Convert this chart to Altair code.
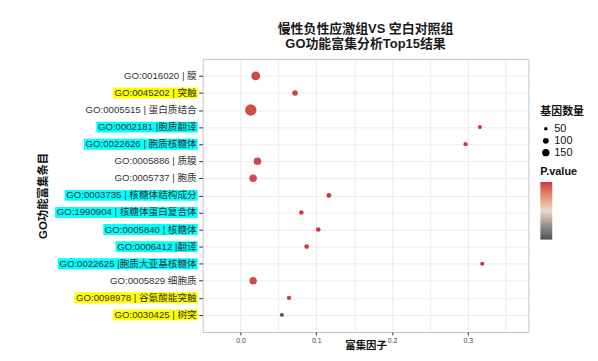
import altair as alt
import pandas as pd

# ---------------- data ----------------
terms = [
    "GO:0016020 | 膜",
    "GO:0045202 | 突触",
    "GO:0005515 | 蛋白质结合",
    "GO:0002181 |胞质翻译",
    "GO:0022626 | 胞质核糖体",
    "GO:0005886 | 质膜",
    "GO:0005737 | 胞质",
    "GO:0003735 | 核糖体结构成分",
    "GO:1990904 | 核糖体蛋白复合体",
    "GO:0005840 | 核糖体",
    "GO:0006412 |翻译",
    "GO:0022625 |胞质大亚基核糖体",
    "GO:0005829 细胞质",
    "GO:0098978 | 谷氨酸能突触",
    "GO:0030425 | 树突",
]
highlight = ["", "yellow", "", "cyan", "cyan", "", "", "cyan", "cyan", "cyan",
             "cyan", "cyan", "", "yellow", "yellow"]
rich_factor = [0.020, 0.072, 0.0135, 0.316, 0.297, 0.0223, 0.0166, 0.1166,
               0.0803, 0.1026, 0.0873, 0.319, 0.0166, 0.064, 0.0546]
gene_count = [210, 95, 341, 61, 63, 162, 160, 75, 70, 72, 74, 60, 152, 66, 58]
p_value = [0.0452, 0.0461, 0.0449, 0.0470, 0.0468, 0.0455, 0.0450, 0.0473,
           0.0466, 0.0471, 0.0469, 0.0474, 0.0451, 0.0458, 0.0012]
x_grid = [0.0, 0.05, 0.10, 0.15, 0.20, 0.25, 0.30, 0.35]
size_breaks = [50, 100, 150]

# ---------------- layout helpers ----------------
FONT = "Liberation Sans, Noto Sans CJK SC, sans-serif"
FS = 9.7
X_MIN, X_MAX = -0.05, 0.38
PLOT_W, PLOT_H = 328, 275
ppu = PLOT_W / (X_MAX - X_MIN)


def text_width(s, fs):
    w = 0.0
    for ch in s:
        if ord(ch) > 0x2E80:
            w += 1.0
        elif ch in "GO":
            w += 0.778
        elif ch in ": ":
            w += 0.278
        elif ch == "|":
            w += 0.26
        else:
            w += 0.556
    return w * fs


hl_color = {"yellow": "#ffff00", "cyan": "#00ffff", "": "transparent"}

df = pd.DataFrame({
    "term": terms,
    "rf": rich_factor,
    "gc": gene_count,
    "pv": p_value,
    "hl": [hl_color[h] for h in highlight],
})
df["hx0"] = [X_MIN - (6 + text_width(t, FS) + 1.5) / ppu for t in terms]
df["hx1"] = X_MIN - 5 / ppu

major_test = "abs(datum.value*10 - round(datum.value*10)) < 0.001"

y_enc = alt.Y(
    "term:N", sort=terms,
    scale=alt.Scale(type="point", padding=1.45),
    axis=alt.Axis(
        labels=False, ticks=True, tickSize=4, tickColor="#333333",
        domain=False, grid=True, gridColor="#ebebeb",
        title="GO功能富集条目", titleX=-160, titleY=PLOT_H / 2,
        titleAngle=270, titleAlign="center", titleBaseline="middle",
        titleFontSize=11.5, titleFontWeight="bold", titleColor="#111111",
    ),
)
x_scale = alt.Scale(domain=[X_MIN, X_MAX], nice=False, zero=False)
x_axis = alt.Axis(
    values=x_grid, labelExpr=f"{major_test} ? format(datum.value, '.1f') : ''",
    tickOpacity={"condition": {"test": major_test, "value": 1}, "value": 0},
    tickSize=3, tickColor="#333333", domain=False, grid=True,
    gridColor="#ebebeb", labelFontSize=7, labelColor="#444444",
    labelPadding=2, labelOverlap=False,
    title="富集因子", titleFontSize=10.5, titleFontWeight="bold",
    titleColor="#111111", titleX=PLOT_W / 2, titleY=14,
    titleBaseline="middle", titleAlign="center",
)

base = alt.Chart(df)

hl_rules = base.transform_filter("datum.hl != 'transparent'").mark_rule(
    strokeWidth=11, strokeCap="butt"
).encode(
    y=y_enc,
    x=alt.X("hx0:Q", scale=x_scale, axis=x_axis),
    x2="hx1:Q",
    stroke=alt.Stroke("hl:N", scale=None),
)

labels = base.mark_text(
    align="right", baseline="middle", fontSize=FS, font=FONT, color="#333333"
).encode(
    y=y_enc,
    x=alt.value(-6),
    text="term:N",
)

points = base.mark_circle(opacity=1).encode(
    y=y_enc,
    x=alt.X("rf:Q", scale=x_scale, axis=x_axis),
    size=alt.Size(
        "gc:Q",
        scale=alt.Scale(domain=[50, 150], range=[12.6, 54], zero=False),
        legend=alt.Legend(
            title="基因数量", values=size_breaks, orient="none",
            legendX=340, legendY=48, symbolFillColor="black",
            symbolStrokeColor="black", symbolStrokeWidth=0,
            labelFontSize=11, titleFontSize=11, titleFontWeight="bold",
            rowPadding=0, titlePadding=6, labelOffset=3,
        ),
    ),
    color=alt.Color(
        "pv:Q",
        scale=alt.Scale(range=["#505050", "#eddccf", "#cd3341"]),
        legend=alt.Legend(
            title="P.value", orient="none", legendX=340, legendY=108,
            gradientLength=58, gradientThickness=12, gradientStrokeWidth=0,
            labelOpacity=0, titleFontSize=11, titleFontWeight="bold",
            titlePadding=5,
        ),
    ),
)

chart = alt.layer(hl_rules, labels, points).properties(
    width=PLOT_W, height=PLOT_H,
    autosize=alt.AutoSizeParams(type="none"),
    padding={"left": 196, "top": 50, "right": 62, "bottom": 20},
    title=alt.TitleParams(
        text=["慢性负性应激组VS 空白对照组", "GO功能富集分析Top15结果"],
        fontSize=13, fontWeight="bold", anchor="middle", offset=8,
        lineHeight=15, color="#1a1a1a", font=FONT,
    ),
).configure_view(
    stroke="#c4c4c4", strokeWidth=1
).configure_axis(
    labelFont=FONT, titleFont=FONT
).configure_legend(
    labelFont=FONT, titleFont=FONT, titleColor="#111111", labelColor="#111111"
)

chart.save("out.html", embed_options={"renderer": "svg", "actions": False})
